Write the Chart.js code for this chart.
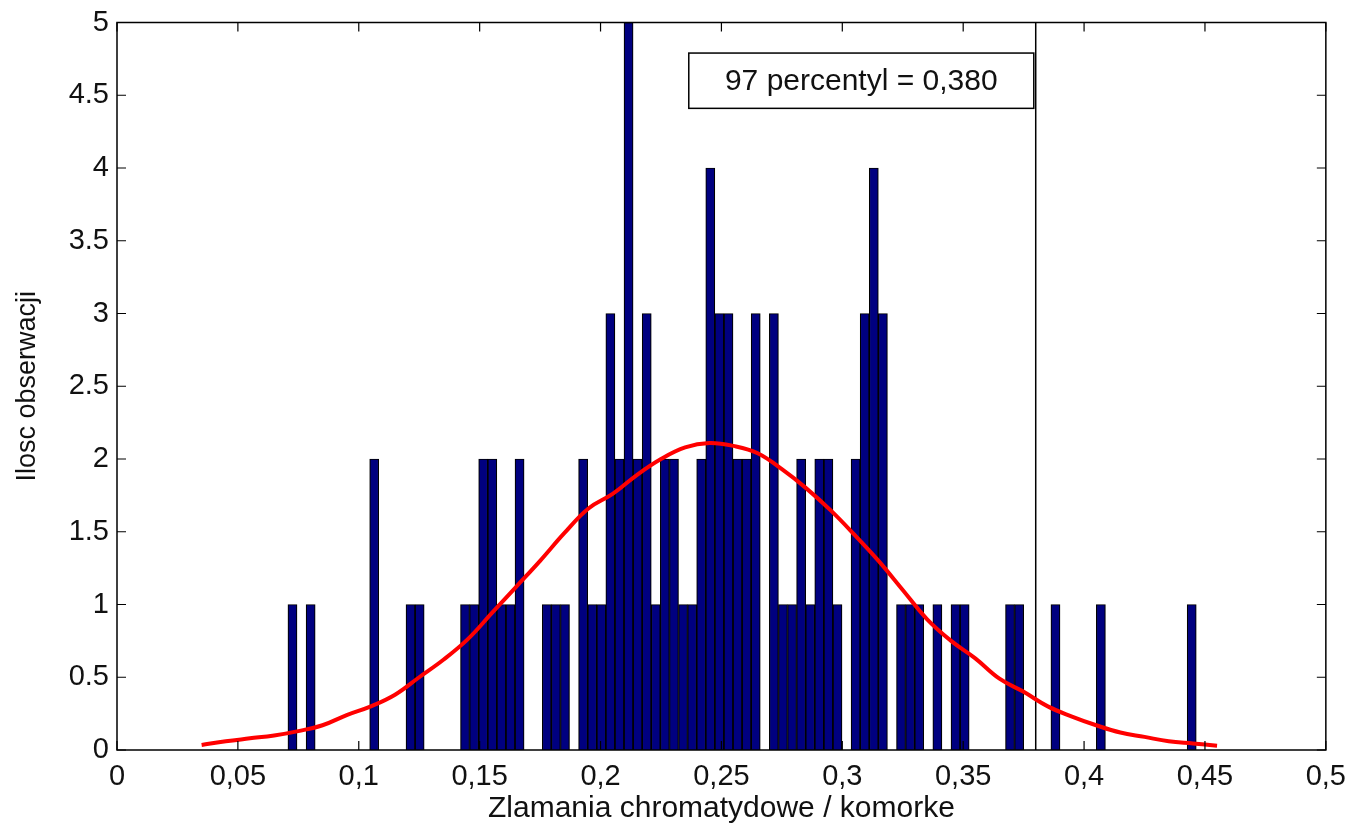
<!DOCTYPE html>
<html>
<head>
<meta charset="utf-8">
<title>Zlamania chromatydowe</title>
<script src="https://cdn.jsdelivr.net/npm/chart.js@4.4.1/dist/chart.umd.min.js"></script>
<style>
    html, body { margin: 0; padding: 0; background: #ffffff; }
    #wrap { width: 1356px; height: 824px; }
</style>
</head>
<body>
<div id="wrap"><canvas id="histChart" width="1356" height="824"></canvas></div>
<script>
// histogram: 100 equal bins between binMin and binMax
const binMin = 0.0707;
const binMax = 0.4464;
const counts = [
    1, 0, 1, 0, 0, 0, 0, 0, 0, 2,
    0, 0, 0, 1, 1, 0, 0, 0, 0, 1,
    1, 2, 2, 1, 1, 2, 0, 0, 1, 1,
    1, 0, 2, 1, 1, 3, 2, 5, 2, 3,
    1, 2, 2, 1, 1, 2, 4, 3, 3, 2,
    2, 3, 0, 3, 1, 1, 2, 1, 2, 2,
    1, 0, 2, 3, 4, 3, 0, 1, 1, 1,
    0, 1, 0, 1, 1, 0, 0, 0, 0, 1,
    1, 0, 0, 0, 1, 0, 0, 0, 0, 1,
    0, 0, 0, 0, 0, 0, 0, 0, 0, 1
];

// fitted density curve (red)
const curveX = [0.035, 0.045, 0.055, 0.065, 0.075, 0.085, 0.095, 0.105, 0.115, 0.125,
    0.135, 0.145, 0.155, 0.165, 0.175, 0.185, 0.195, 0.205, 0.215, 0.225,
    0.235, 0.245, 0.255, 0.265, 0.275, 0.285, 0.295, 0.305, 0.315, 0.325,
    0.335, 0.345, 0.355, 0.365, 0.375, 0.385, 0.395, 0.405, 0.415, 0.425,
    0.435, 0.445, 0.455];
const curveY = [0.035, 0.06, 0.08, 0.10, 0.13, 0.17, 0.24, 0.30, 0.38, 0.50,
    0.62, 0.76, 0.94, 1.12, 1.30, 1.49, 1.66, 1.76, 1.89, 2.00,
    2.08, 2.11, 2.09, 2.04, 1.93, 1.80, 1.65, 1.48, 1.30, 1.10,
    0.90, 0.75, 0.63, 0.49, 0.40, 0.30, 0.23, 0.17, 0.12, 0.09,
    0.06, 0.045, 0.03];

const percentile = 0.380;
const percentileLabel = '97 percentyl = 0,380';

const xTickLabels = ['0', '0,05', '0,1', '0,15', '0,2', '0,25', '0,3', '0,35', '0,4', '0,45', '0,5'];
const yTickLabels = ['0', '0.5', '1', '1.5', '2', '2.5', '3', '3.5', '4', '4.5', '5'];

const FONT = '"Liberation Sans", Arial, Helvetica, sans-serif';

function buildBars() {
    const w = (binMax - binMin) / counts.length;
    return counts.map((c, i) => ({ x: binMin + (i + 0.5) * w, y: c > 0 ? c : null }));
}

// box around the axes + inward ticks on all four sides (matlab look)
const framePlugin = {
    id: 'frame',
    afterDraw(chart) {
        const ctx = chart.ctx;
        const a = chart.chartArea;
        const xs = chart.scales.x;
        const ys = chart.scales.y;
        const len = 9;
        ctx.save();
        ctx.strokeStyle = '#000000';
        ctx.lineWidth = 1.5;
        ctx.strokeRect(a.left, a.top, a.right - a.left, a.bottom - a.top);
        ctx.lineWidth = 1.2;
        ctx.beginPath();
        xs.ticks.forEach(t => {
            const px = xs.getPixelForValue(t.value);
            ctx.moveTo(px, a.bottom); ctx.lineTo(px, a.bottom - len);
            ctx.moveTo(px, a.top); ctx.lineTo(px, a.top + len);
        });
        ys.ticks.forEach(t => {
            const py = ys.getPixelForValue(t.value);
            ctx.moveTo(a.left, py); ctx.lineTo(a.left + len, py);
            ctx.moveTo(a.right, py); ctx.lineTo(a.right - len, py);
        });
        ctx.stroke();
        ctx.restore();
    }
};

// text box with the percentile value, anchored in data units
const labelPlugin = {
    id: 'percentileLabel',
    afterDatasetsDraw(chart) {
        const ctx = chart.ctx;
        const xs = chart.scales.x;
        const ys = chart.scales.y;
        const x1 = xs.getPixelForValue(0.2365);
        const x2 = xs.getPixelForValue(percentile - 0.0008);
        const y1 = ys.getPixelForValue(4.79);
        const y2 = ys.getPixelForValue(4.41);
        ctx.save();
        ctx.fillStyle = '#ffffff';
        ctx.fillRect(x1, y1, x2 - x1, y2 - y1);
        ctx.strokeStyle = '#000000';
        ctx.lineWidth = 1.5;
        ctx.strokeRect(x1, y1, x2 - x1, y2 - y1);
        ctx.fillStyle = '#111111';
        ctx.font = '30px ' + FONT;
        ctx.textAlign = 'center';
        ctx.textBaseline = 'middle';
        ctx.fillText(percentileLabel, (x1 + x2) / 2, (y1 + y2) / 2 + 1);
        ctx.restore();
    }
};

function createHistogram() {
    const ctx = document.getElementById('histChart');
    if (!ctx) {
        console.error('Chart canvas not found');
        return;
    }
    new Chart(ctx, {
        type: 'bar',
        data: {
            datasets: [
                {
                    type: 'line',
                    label: 'fit',
                    data: curveX.map((x, i) => ({ x: x, y: curveY[i] })),
                    borderColor: '#ff0000',
                    borderWidth: 4,
                    pointRadius: 0,
                    tension: 0.4,
                    fill: false,
                    order: 0
                },
                {
                    type: 'line',
                    label: 'percentile',
                    data: [{ x: percentile, y: 0 }, { x: percentile, y: 5 }],
                    borderColor: '#000000',
                    borderWidth: 1.5,
                    pointRadius: 0,
                    fill: false,
                    order: 1
                },
                {
                    label: 'Ilosc obserwacji',
                    data: buildBars(),
                    backgroundColor: '#000080',
                    borderColor: '#000000',
                    borderWidth: 1.2,
                    borderSkipped: 'bottom',
                    barPercentage: 1.0,
                    categoryPercentage: 1.0,
                    grouped: false,
                    order: 2
                }
            ]
        },
        options: {
            responsive: false,
            animation: false,
            devicePixelRatio: 1,
            layout: { padding: { top: 22, right: 28, left: 0, bottom: 0 } },
            plugins: {
                legend: { display: false },
                tooltip: { enabled: false }
            },
            scales: {
                x: {
                    type: 'linear',
                    min: 0,
                    max: 0.5,
                    offset: false,
                    grid: { display: false, offset: false, drawTicks: false },
                    border: { display: false },
                    ticks: {
                        stepSize: 0.05,
                        padding: 10,
                        maxRotation: 0,
                        autoSkip: false,
                        color: '#111111',
                        font: { family: FONT, size: 29 },
                        callback: (v, i) => xTickLabels[i]
                    },
                    title: {
                        display: true,
                        text: 'Zlamania chromatydowe / komorke',
                        color: '#111111',
                        font: { family: FONT, size: 30, lineHeight: 1.0 },
                        padding: { top: 0, bottom: 0 }
                    },
                    afterFit: scale => { scale.height = 74; }
                },
                y: {
                    min: 0,
                    max: 5,
                    grid: { display: false, drawTicks: false },
                    border: { display: false },
                    ticks: {
                        stepSize: 0.5,
                        padding: 8,
                        color: '#111111',
                        font: { family: FONT, size: 29, lineHeight: 1.0 },
                        callback: (v, i) => yTickLabels[i]
                    },
                    title: {
                        display: true,
                        text: 'Ilosc obserwacji',
                        color: '#111111',
                        font: { family: FONT, size: 27, lineHeight: 1.0 },
                        padding: { top: 14, bottom: 0 }
                    },
                    afterFit: scale => { scale.width = 117; }
                }
            }
        },
        plugins: [framePlugin, labelPlugin]
    });
}

document.addEventListener('DOMContentLoaded', createHistogram);
</script>
</body>
</html>
